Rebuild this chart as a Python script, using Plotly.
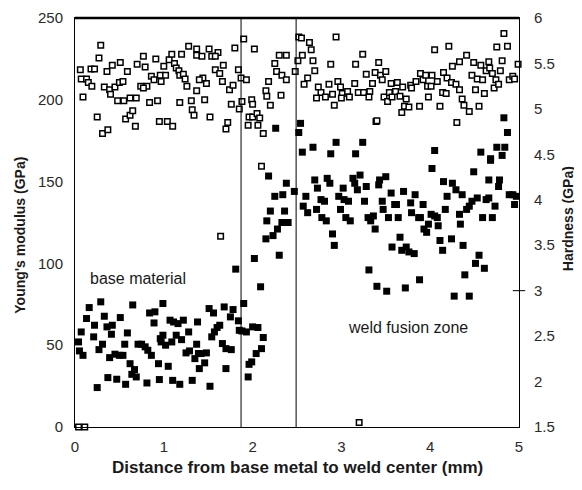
import plotly.graph_objects as go

# Hardness (GPa), open squares, right axis
hard_x = [0.29,0.27,0.06,0.18,0.22,0.07,0.13,0.15,0.19,0.09,0.25,0.31,0.37,0.33,0.39,0.36,0.42,0.51,0.59,0.45,
          0.50,0.54,0.40,0.48,0.55,0.62,0.69,0.57,0.62,0.65,0.68,0.70,0.77,0.79,0.74,0.81,0.77,0.86,0.89,0.91,
          0.84,0.93,0.95,1.04,1.10,0.96,1.02,0.97,1.00,1.06,1.09,1.12,1.14,1.17,1.18,1.22,1.24,1.26,1.20,1.28,
          1.37,1.37,1.43,1.51,1.54,1.61,1.58,1.58,1.63,1.67,1.74,1.78,1.66,1.48,1.44,1.40,1.37,1.18,1.31,1.46,
          1.32,1.34,1.52,1.76,1.85,1.72,1.70,1.80,1.90,2.02,1.84,1.87,1.93,1.88,1.99,2.00,1.96,2.00,2.05,2.08,
          2.06,1.95,2.12,2.15,2.16,2.20,2.18,2.25,2.30,2.38,2.27,2.33,2.38,2.32,
          2.52,2.55,2.64,2.66,2.94,2.56,2.51,2.68,2.70,2.48,2.62,2.58,2.88,3.16,3.24,3.42,3.28,3.38,3.44,3.50,
          3.46,3.35,3.15,2.96,2.86,2.74,2.77,2.72,2.82,2.90,2.99,3.01,3.07,3.09,3.00,2.92,3.19,3.25,3.32,3.31,
          3.39,3.48,3.52,3.54,3.57,3.56,3.63,3.61,3.66,3.69,3.73,3.71,3.76,3.68,3.78,3.84,3.79,3.88,3.89,3.92,
          3.95,3.97,4.01,4.02,3.98,4.05,4.21,4.08,4.11,4.15,4.14,4.18,4.19,4.24,4.29,4.33,4.36,4.38,4.44,4.25,
          4.33,4.41,4.49,4.47,4.51,4.55,4.53,4.59,4.57,4.61,4.63,4.66,4.67,4.70,4.74,4.72,4.77,4.79,4.81,4.75,
          4.87,4.83,4.89,4.93,4.95,4.99,4.30,3.40,
          1.64,2.10,0.04,0.11,3.20]
hard_y = [5.70,5.56,5.43,5.44,5.44,5.33,5.33,5.29,5.25,5.13,4.91,4.73,4.77,5.24,5.21,5.41,5.48,5.51,5.41,5.24,
          5.29,5.30,5.16,5.09,5.09,5.12,5.12,4.89,4.93,4.98,4.81,5.49,5.58,5.46,5.25,5.25,5.23,5.36,5.32,5.55,
          5.07,5.09,4.86,4.86,4.81,5.37,5.37,5.30,5.47,5.54,5.60,5.50,5.45,5.42,5.37,5.38,5.33,5.25,5.60,5.69,
          5.66,5.59,5.58,5.66,5.58,5.62,5.58,5.43,5.39,5.48,5.21,5.26,5.30,5.28,5.34,5.32,5.20,5.07,5.09,5.10,
          4.99,4.93,4.91,5.05,5.00,4.85,4.78,5.67,5.77,5.66,5.43,5.34,5.32,5.08,5.10,5.05,4.91,4.91,4.95,4.90,
          4.82,4.82,4.73,5.20,5.14,5.04,5.30,5.50,5.59,5.59,5.41,5.37,5.32,5.15,
          5.79,5.78,5.73,5.65,5.79,5.59,5.53,5.53,5.42,5.41,5.34,5.27,5.49,5.49,5.60,5.51,5.38,5.40,5.37,5.41,
          5.32,5.28,5.28,5.30,5.27,5.24,5.18,5.12,5.13,5.16,5.24,5.17,5.19,5.13,5.12,5.04,5.18,5.18,5.19,5.13,
          4.86,5.13,5.08,5.18,5.13,5.28,5.29,5.19,5.14,5.24,5.11,5.03,5.02,4.96,5.26,5.30,5.23,5.03,5.39,5.32,
          5.37,5.25,5.25,5.37,5.13,5.65,5.69,5.30,5.03,5.40,5.18,5.17,5.34,5.29,5.27,5.21,5.11,5.04,4.97,5.47,
          5.52,5.59,5.51,5.37,5.21,5.03,5.33,5.32,5.48,5.17,5.42,5.52,5.45,5.39,5.32,5.23,5.27,5.42,5.53,5.68,
          5.69,5.83,5.32,5.36,5.33,5.49,4.85,4.87,
          3.60,4.37,1.50,1.50,1.55]

# Young's modulus (GPa), filled squares, left axis
mod_x = [0.16,0.29,0.65,0.99,0.84,0.90,0.89,0.13,0.07,0.04,0.05,0.09,0.21,0.22,0.33,0.36,0.42,0.41,0.51,0.59,
         0.31,0.27,0.39,0.45,0.50,0.54,0.56,0.62,0.67,0.64,0.69,0.37,0.47,0.57,0.25,0.71,0.75,0.79,0.82,0.86,
         0.81,0.94,0.95,0.96,0.99,0.97,1.02,1.05,1.07,1.11,1.16,1.22,1.09,1.10,1.18,1.14,1.20,1.25,1.29,1.28,
         1.38,1.37,1.32,1.35,1.40,1.39,1.42,1.48,1.46,1.52,1.51,1.56,1.54,1.57,1.60,1.63,1.66,1.70,1.76,1.70,
         1.68,1.78,1.75,1.84,1.85,1.90,1.88,1.93,2.00,2.06,2.12,2.10,2.04,1.99,1.96,1.95,
         2.18,2.38,2.25,2.34,2.20,2.36,2.16,2.33,2.40,2.28,2.23,2.15,2.30,2.02,1.81,2.09,
         2.47,2.70,2.73,2.60,2.57,2.62,2.72,2.77,2.81,2.78,2.83,2.84,2.87,2.90,2.92,2.97,3.02,3.03,3.08,2.99,
         3.05,3.10,3.13,3.15,3.21,3.18,3.28,3.26,3.30,3.33,3.36,3.38,3.31,3.40,3.51,3.42,3.43,3.50,3.46,3.47,
         3.53,3.56,3.60,3.62,3.64,3.66,3.57,3.68,3.73,3.76,3.82,3.72,3.88,3.70,3.78,3.83,3.79,3.87,3.89,3.92,
         3.93,3.96,3.98,4.01,4.05,4.08,4.09,4.02,4.11,4.14,4.24,4.17,4.19,4.15,4.25,4.29,4.36,4.33,4.34,4.37,
         4.41,4.44,4.47,4.49,4.53,4.55,4.51,4.61,4.39,4.27,4.44,4.59,4.63,4.66,4.70,4.73,4.66,4.68,4.77,4.78,
         4.89,4.93,4.95,4.97,
         2.54,2.52,2.56,2.68,2.88,2.94,3.16,3.24,4.05,4.83,4.87,4.75,4.84,4.57,4.68,4.81,2.26]
mod_y = [73.0,76.5,74.6,75.5,69.7,70.4,63.6,66.3,58.1,52.0,46.5,43.8,55.1,62.2,67.7,61.2,62.2,56.7,66.9,57.5,
         50.6,47.3,42.4,44.5,43.8,43.8,50.6,38.7,35.1,32.2,30.6,30.2,29.2,26.1,24.1,50.6,50.6,49.0,46.9,43.8,
         26.9,38.7,29.0,54.0,56.1,52.0,50.0,37.1,65.3,64.2,63.2,65.3,52.0,28.5,26.1,56.1,53.4,45.3,46.5,58.1,
         64.2,50.6,28.5,41.8,35.7,44.9,44.9,45.3,39.2,24.9,72.4,69.7,55.1,58.1,60.8,62.2,51.0,47.9,47.3,35.7,
         73.4,71.8,67.3,64.9,59.1,75.5,58.7,58.1,61.2,60.8,54.7,47.9,44.9,39.8,38.3,30.6,
         153.4,149,141,142,132,132,126,125,125,121,117,115,105,103,96.5,85.7,
         144,151,146,141,135,131,133,139,138,128,126,152,149,118,111,141,146,139,138,133,
         128,126,152,149,154,145,147,138,128,126,129,121,96,86,83,148,151,153,138,133,
         128,143,136,136,128,116,110,108,110,107,106,85,90,144,137,142,131,128,128,136,
         121,119,124,130,129,128,123,158,114,108,115,133,141,150,149,145,142,130,124,111,
         133,135,138,156,140,105,100,97,93,80,80,128,139,140,128,135,151,163,147,151,
         142,142,136,141,
         185.6,180,168,171,167,174,167,174,169,189,180,171,171,168,164,166,182.6]

# Region boundaries (mm) and labels
boundaries = [1.87, 2.49]
region_labels = ["base material", "weld fusion zone"]
region_pos = [(0.15, 91), (3.75, 61)]

x_title = "Distance from base metal to weld center (mm)"
y_title = "Young's modulus (GPa)"
y2_title = "Hardness (GPa)"

FONT = "Liberation Sans, Arial, sans-serif"
TXT = "#1a1a1a"

fig = go.Figure()
fig.add_trace(go.Scatter(
    x=mod_x, y=mod_y, mode="markers", name="Young's modulus",
    marker=dict(symbol="square", size=7, color="black", line=dict(width=0)),
    cliponaxis=False, yaxis="y"))
fig.add_trace(go.Scatter(
    x=hard_x, y=hard_y, mode="markers", name="Hardness",
    marker=dict(symbol="square", size=5.5, color="white", line=dict(color="black", width=1.5)),
    cliponaxis=False, yaxis="y2"))

for b in boundaries:
    fig.add_shape(type="line", xref="x", yref="paper", x0=b, x1=b, y0=0, y1=1,
                  line=dict(color="black", width=1))

fig.add_annotation(x=region_pos[0][0], y=region_pos[0][1], xref="x", yref="y",
                   text=region_labels[0], showarrow=False, xanchor="left",
                   font=dict(family=FONT, size=16, color=TXT))
fig.add_annotation(x=region_pos[1][0], y=region_pos[1][1], xref="x", yref="y",
                   text=region_labels[1], showarrow=False, xanchor="center",
                   font=dict(family=FONT, size=16, color=TXT))

# axis titles
fig.add_annotation(x=0.5, y=-0.10, xref="paper", yref="paper", text="<b>%s</b>" % x_title,
                   showarrow=False, xanchor="center", yanchor="middle",
                   font=dict(family=FONT, size=17, color=TXT))
fig.add_annotation(x=-0.124, y=0.47, xref="paper", yref="paper", text="<b>%s</b>" % y_title,
                   showarrow=False, textangle=-90, xanchor="center", yanchor="middle",
                   font=dict(family=FONT, size=14, color=TXT))
fig.add_annotation(x=1.112, y=0.51, xref="paper", yref="paper", text="<b>%s</b>" % y2_title,
                   showarrow=False, textangle=-90, xanchor="center", yanchor="middle",
                   font=dict(family=FONT, size=14, color=TXT))

# small tick on the right axis at 3
fig.add_shape(type="line", xref="paper", yref="y2", x0=0.986, x1=1.014, y0=3, y1=3,
              line=dict(color="black", width=1))
# heavier top border
fig.add_shape(type="line", xref="paper", yref="paper", x0=0, x1=1, y0=1, y1=1,
              line=dict(color="black", width=2.5))

# page body has an 8px margin, so the figure is drawn 8px smaller to fit the 582x490 window
fig.update_layout(
    width=574, height=482,
    margin=dict(l=67, r=63, t=10, b=63),
    paper_bgcolor="white", plot_bgcolor="white",
    showlegend=False,
    font=dict(family=FONT, size=15, color="#2a2a2a"),
    xaxis=dict(range=[0, 5], dtick=1, showgrid=False, zeroline=False, automargin=False,
               showline=True, linecolor="black", linewidth=1, mirror=True, ticks="",
               ticklabelstandoff=6),
    yaxis=dict(range=[0, 250], dtick=50, showgrid=False, zeroline=False, automargin=False,
               showline=True, linecolor="black", linewidth=1, ticks="",
               ticklabelstandoff=8),
    yaxis2=dict(range=[1.5, 6], dtick=0.5, overlaying="y", side="right", showgrid=False,
                automargin=False, zeroline=False, showline=True, linecolor="black",
                linewidth=1, ticks="", ticklabelstandoff=11),
)

fig.write_html("out.html")
